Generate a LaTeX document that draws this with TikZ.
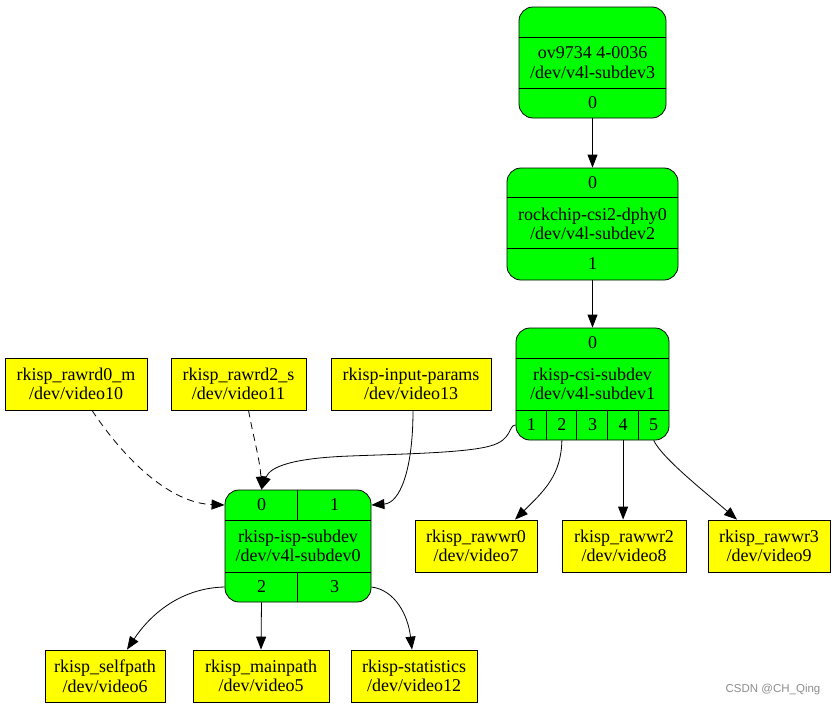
\documentclass[tikz,border=0pt]{standalone}
\usepackage{fontspec}
\setmainfont{Liberation Serif}
\setsansfont{Liberation Sans}
\usetikzlibrary{arrows.meta}
\definecolor{gvgreen}{RGB}{0,255,0}
\definecolor{gvyellow}{RGB}{255,255,0}
\tikzset{
  subdev/.style={draw, fill=gvgreen, rounded corners=14pt, inner sep=0pt, align=center},
  devbox/.style={draw, fill=gvyellow, minimum height=52pt, inner sep=0pt, align=center},
  pad/.style={inner sep=0pt, minimum height=30pt},
  arr/.style={-{Triangle[length=13pt,width=10pt]}},
  dsh/.style={arr, dash pattern=on 7pt off 5pt}
}

\begin{document}
\begin{tikzpicture}[x=1pt, y=-1pt, line width=0.8pt,
  every node/.style={font=\fontsize{18pt}{19.5pt}\selectfont}]
\useasboundingbox (0,0) rectangle (837,707);
% sensor
\node[subdev, minimum width=147pt, minimum height=111pt] (ov) at (592.5,62.5) {ov9734 4-0036\\/dev/v4l-subdev3};
\draw (ov.west |- 0,37) -- (ov.east |- 0,37);
\draw (ov.west |- 0,88) -- (ov.east |- 0,88);
\node[pad, minimum width=147pt] (ov0) at (592.5,103) {0};
% mipi dphy
\node[subdev, minimum width=171pt, minimum height=112pt] (dp) at (592.5,224) {rockchip-csi2-dphy0\\/dev/v4l-subdev2};
\draw (dp.west |- 0,197) -- (dp.east |- 0,197);
\draw (dp.west |- 0,248) -- (dp.east |- 0,248);
\node[pad, minimum width=171pt, minimum height=29pt] (dp0) at (592.5,182.5) {0};
\node[pad, minimum width=171pt, minimum height=32pt] (dp1) at (592.5,264) {1};
% csi subdev
\node[subdev, minimum width=153pt, minimum height=112pt] (cs) at (592.5,384) {rkisp-csi-subdev\\/dev/v4l-subdev1};
\draw (cs.west |- 0,358) -- (cs.east |- 0,358);
\draw (cs.west |- 0,410) -- (cs.east |- 0,410);
\node[pad, minimum width=153pt] (cs0) at (592.5,343) {0};
\foreach \i in {1,...,5}
  \node[pad, minimum width=30.6pt] (cs\i) at (500.7+30.6*\i,425) {\i};
\foreach \i in {2,...,5}
  \draw (cs\i.north west) -- (cs\i.south west);
% isp subdev
\node[subdev, minimum width=146pt, minimum height=112pt] (isp) at (298,546) {rkisp-isp-subdev\\/dev/v4l-subdev0};
\draw (isp.west |- 0,520) -- (isp.east |- 0,520);
\draw (isp.west |- 0,572) -- (isp.east |- 0,572);
\node[pad, minimum width=73pt] (is0) at (261.5,505) {0};
\node[pad, minimum width=73pt] (is1) at (334.5,505) {1};
\node[pad, minimum width=73pt] (is2) at (261.5,587) {2};
\node[pad, minimum width=73pt] (is3) at (334.5,587) {3};
\draw (is1.north west) -- (is1.south west);
\draw (is3.north west) -- (is3.south west);
% video nodes
\node[devbox, minimum width=142pt] (rd0) at (76,384) {rkisp\_rawrd0\_m\\/dev/video10};
\node[devbox, minimum width=135pt] (rd2) at (238.5,384) {rkisp\_rawrd2\_s\\/dev/video11};
\node[devbox, minimum width=160pt] (inp) at (411,384) {rkisp-input-params\\/dev/video13};
\node[devbox, minimum width=122pt] (wr0) at (476,546) {rkisp\_rawwr0\\/dev/video7};
\node[devbox, minimum width=124pt] (wr2) at (624,546) {rkisp\_rawwr2\\/dev/video8};
\node[devbox, minimum width=122pt] (wr3) at (769,546) {rkisp\_rawwr3\\/dev/video9};
\node[devbox, minimum width=120pt] (self) at (105,676) {rkisp\_selfpath\\/dev/video6};
\node[devbox, minimum width=136pt] (main) at (261,676) {rkisp\_mainpath\\/dev/video5};
\node[devbox, minimum width=126pt] (stat) at (414,676) {rkisp-statistics\\/dev/video12};
% links
\draw[arr] (ov0.south) -- (dp0.north);
\draw[arr] (dp1.south) -- (cs0.north);
\draw[arr] (cs1.west) .. controls (508,425) and (513,440) .. (490,446) .. controls (465,453) and (400,454) .. (350,456) .. controls (295,458) and (270,466) .. (is0.north);
\draw[arr] (cs2.south) .. controls (561,475) and (545,490) .. ([xshift=39pt]wr0.north);
\draw[arr] (cs4.south) -- (cs4.south |- wr2.north);
\draw[arr] (cs5.south) .. controls (662,458) and (705,492) .. ([xshift=-32pt]wr3.north);
\draw[dsh] ([xshift=16pt]rd0.south) .. controls (125,460) and (170,503) .. (is0.west);
\draw[dsh] ([xshift=10pt]rd2.south) .. controls (254,440) and (260,460) .. (is0.north);
\draw[arr] ([xshift=2pt]inp.south) .. controls (413,470) and (400,503) .. (is1.east);
\draw[arr] (is2.west) .. controls (180,588) and (150,615) .. ([xshift=22pt]self.north);
\draw[arr] (is2.south) -- (main.north);
\draw[arr] (is3.east) .. controls (395,590) and (408,615) .. ([xshift=-2pt]stat.north);
% watermark
\node[font=\sffamily\fontsize{11.5pt}{13pt}\selectfont, text=black!45] (mark) at (773,690) {CSDN @CH\_Qing};
\end{tikzpicture}
\end{document}
